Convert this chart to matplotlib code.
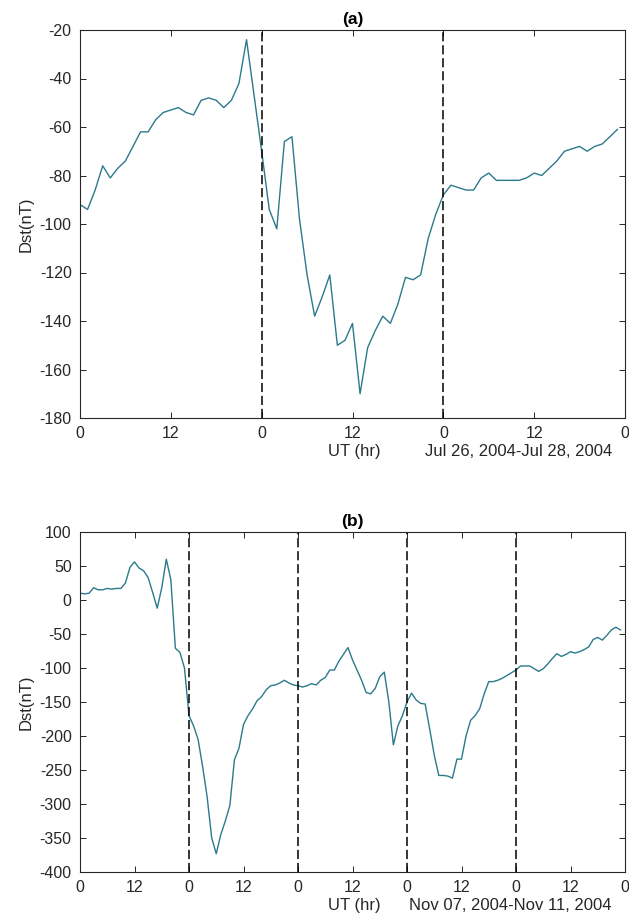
import numpy as np
import matplotlib.pyplot as plt

plt.rcParams['font.family'] = ['Liberation Sans', 'DejaVu Sans']
plt.rcParams['axes.unicode_minus'] = False

# hourly Dst (nT), storm of Jul 26-28, 2004
hours_a = np.arange(72)
dst_a = [-92, -94, -86, -76, -81, -77, -74, -68, -62, -62, -57, -54,
         -53, -52, -54, -55, -49, -48, -49, -52, -49, -42, -24, -47,
         -70, -94, -102, -66, -64, -98, -121, -138, -130, -121, -150, -148,
         -141, -170, -151, -144, -138, -141, -133, -122, -123, -121, -106, -96,
         -88, -84, -85, -86, -86, -81, -79, -82, -82, -82, -82, -81,
         -79, -80, -77, -74, -70, -69, -68, -70, -68, -67, -64, -61]
ticks_a = np.arange(0, 73, 12)
ticklabels_a = ['0', '12', '0', '12', '0', '12', '0']
yticks_a = np.arange(-180, -19, 20)
midnights_a = [24, 48]
dates_a = 'Jul 26, 2004-Jul 28, 2004'

# hourly Dst (nT), storm of Nov 07-11, 2004
hours_b = np.arange(120)
dst_b = [10, 9, 10, 18, 15, 15, 17, 16, 17, 17, 25, 48,
         56, 47, 43, 33, 11, -12, 18, 60, 30, -71, -77, -100,
         -170, -185, -205, -245, -290, -350, -373, -345, -325, -302, -235, -218,
         -183, -170, -160, -148, -142, -132, -126, -125, -122, -118, -122, -125,
         -126, -128, -126, -123, -125, -118, -114, -103, -103, -90, -80, -70,
         -88, -103, -118, -136, -138, -130, -113, -106, -150, -213, -185, -170,
         -150, -137, -147, -152, -153, -190, -228, -258, -258, -259, -262, -234,
         -234, -200, -177, -170, -160, -138, -120, -120, -118, -115, -111, -107,
         -103, -97, -97, -97, -101, -105, -101, -94, -86, -79, -83, -80,
         -76, -78, -76, -73, -69, -58, -55, -59, -52, -44, -40, -44]
ticks_b = np.arange(0, 121, 12)
ticklabels_b = ['0', '12'] * 5 + ['0']
yticks_b = np.arange(-400, 101, 50)
midnights_b = [24, 48, 72, 96]
dates_b = 'Nov 07, 2004-Nov 11, 2004'

TXT = '#262626'
LINE = '#2b7a8c'


def draw_panel(ax, hours, dst, ticks, ticklabels, yticks, midnights, dates, title):
    ax.plot(hours, dst, color=LINE, lw=1.0)
    for m in midnights:
        ax.axvline(m, color='k', lw=1.1, ls=(0, (6, 2.5)))
    ax.set_xlim(ticks[0], ticks[-1])
    ax.set_ylim(yticks[0], yticks[-1])
    ax.set_xticks(ticks)
    ax.set_xticklabels(ticklabels)
    ax.set_yticks(yticks)
    ax.tick_params(direction='in', top=True, right=True, length=4, width=0.7,
                   colors=TXT, labelsize=11.5)
    ax.tick_params(axis='x', pad=6)
    ax.tick_params(axis='y', pad=6)
    for s in ax.spines.values():
        s.set_color(TXT)
        s.set_linewidth(0.8)
    ax.set_title(title, fontsize=12.5, fontweight='bold', color='k', pad=4)
    ax.set_ylabel('Dst(nT)', fontsize=12, color=TXT)
    ax.yaxis.set_label_coords(-0.086, 0.5)
    # x label and date range sit side by side under the tick labels
    ax.annotate('UT (hr)', xy=(0.503, 0), xycoords='axes fraction',
                xytext=(0, -24), textcoords='offset points',
                ha='center', va='center', fontsize=12, color=TXT)
    ax.annotate(dates, xy=(0.976, 0), xycoords='axes fraction',
                xytext=(0, -24), textcoords='offset points',
                ha='right', va='center', fontsize=12, color=TXT)


fig = plt.figure(figsize=(6.29, 9.15), dpi=100, facecolor='white')
ax1 = fig.add_axes([80 / 629, 1 - 418 / 915, 545 / 629, 388 / 915])
ax2 = fig.add_axes([80 / 629, 1 - 872 / 915, 545 / 629, 340 / 915])

draw_panel(ax1, hours_a, dst_a, ticks_a, ticklabels_a, yticks_a, midnights_a, dates_a, '(a)')
draw_panel(ax2, hours_b, dst_b, ticks_b, ticklabels_b, yticks_b, midnights_b, dates_b, '(b)')

plt.savefig('out.png', dpi=100)
